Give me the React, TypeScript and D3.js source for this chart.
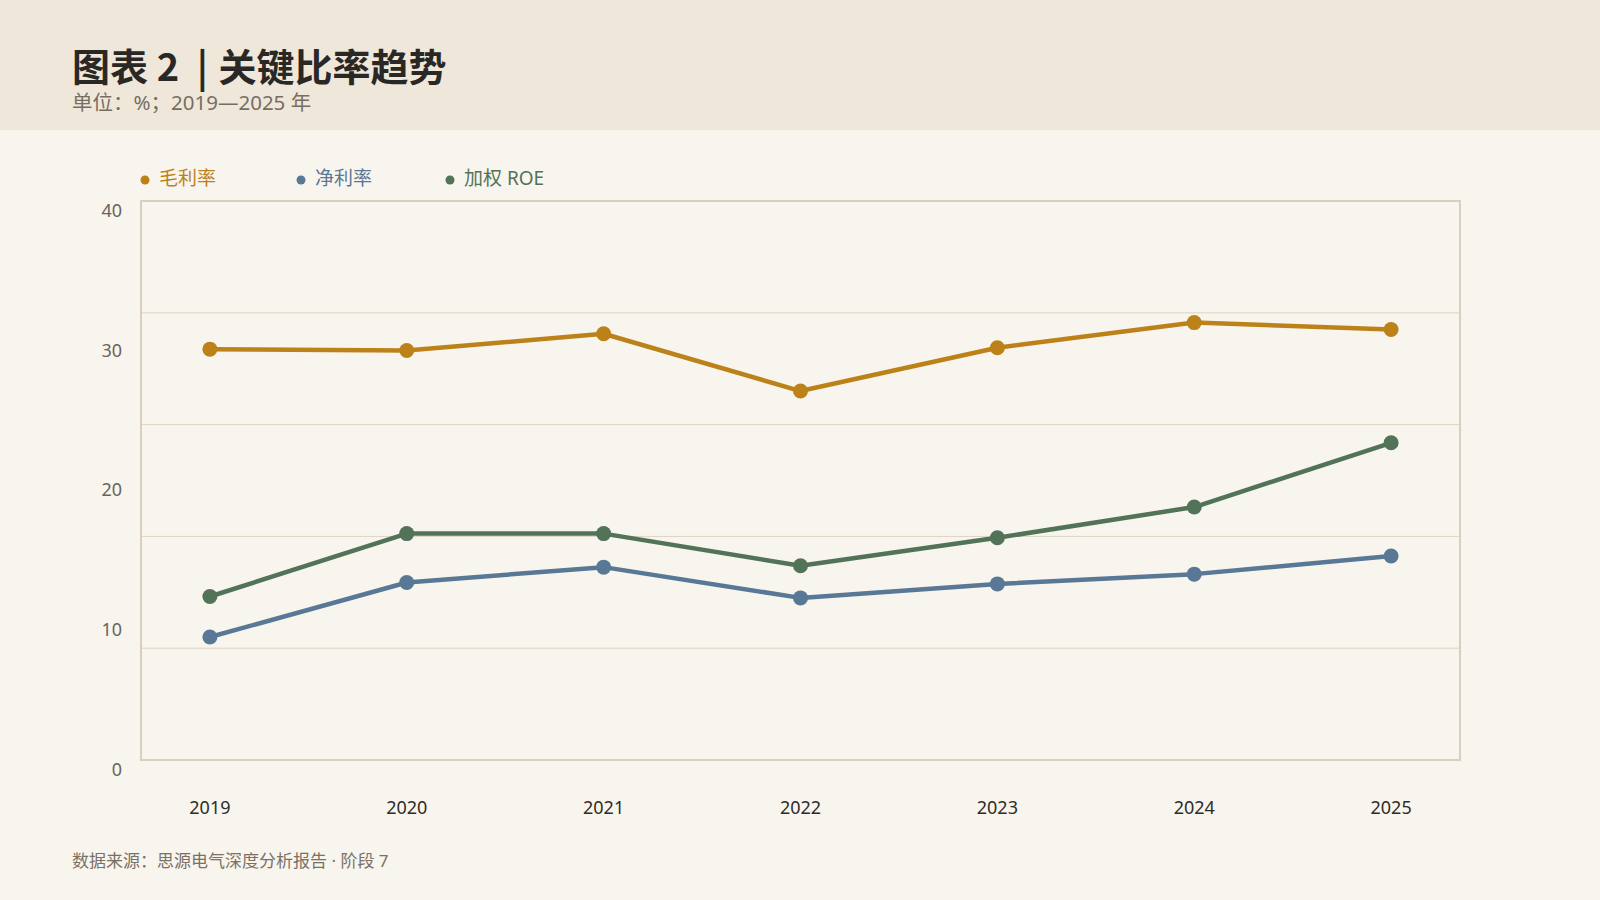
import React, { useEffect, useRef } from "react";
import * as d3 from "d3";

// Chart data
const years = ["2019", "2020", "2021", "2022", "2023", "2024", "2025"];
const grossMargin = [29.4, 29.3, 30.5, 26.4, 29.5, 31.3, 30.8];
const netMargin = [8.8, 12.7, 13.8, 11.6, 12.6, 13.3, 14.6];
const weightedRoe = [11.7, 16.2, 16.2, 13.9, 15.9, 18.1, 22.7];
const seriesNames = ["毛利率", "净利率", "加权 ROE"];
const yTickLabels = [0, 10, 20, 30, 40];

const colors = ["#BC8219", "#587896", "#527358"];

// Layout
const width = 1600;
const height = 900;
const headerHeight = 130;
const marginLeft = 141;
const marginRight = 140;
const marginTop = 201;
const marginBottom = 140;
const gridCount = 5; // horizontal bands inside the plot
const legendX = [145, 301, 450];
const fontStack = "'Noto Sans', 'Noto Sans CJK SC', sans-serif";
const titleFont = "'Noto Sans CJK SC', 'Noto Sans', sans-serif";

const App: React.FC = () => {
  const svgRef = useRef<SVGSVGElement>(null);

  useEffect(() => {
    if (!svgRef.current) return;
    document.body.style.margin = "0";

    const svg = d3.select(svgRef.current);
    svg.selectAll("*").remove();
    svg.attr("width", width).attr("height", height).attr("viewBox", `0 0 ${width} ${height}`);

    // Backgrounds
    svg.append("rect").attr("width", width).attr("height", height).attr("fill", "#F8F5EE");
    svg.append("rect").attr("width", width).attr("height", headerHeight).attr("fill", "#EFE7DA");

    // Title block
    const title = svg
      .append("text")
      .attr("x", 72)
      .attr("y", 81)
      .attr("font-family", titleFont)
      .attr("font-size", 38)
      .attr("font-weight", 700)
      .attr("fill", "#2A2824");
    title.append("tspan").text("图表 2 ");
    title.append("tspan").attr("dx", 9).text("|");
    title.append("tspan").attr("dx", 2).text(" 关键比率趋势");

    svg
      .append("text")
      .attr("x", 72)
      .attr("y", 110)
      .attr("font-family", fontStack)
      .attr("font-size", 20.5)
      .attr("fill", "#776E62")
      .text("单位：%；2019—2025 年");

    const x = d3
      .scalePoint()
      .domain(years)
      .range([marginLeft, width - marginRight])
      .padding(0.35);

    const y = d3
      .scaleLinear()
      .domain([0, 40])
      .range([height - marginBottom, marginTop]);

    const plotW = width - marginLeft - marginRight;
    const plotH = height - marginTop - marginBottom;

    // Grid lines (5 equal bands)
    const gridValues = d3.range(1, gridCount).map((i) => (40 / gridCount) * i);
    svg
      .append("g")
      .selectAll("line")
      .data(gridValues)
      .join("line")
      .attr("x1", marginLeft)
      .attr("x2", width - marginRight)
      .attr("y1", (d) => y(d))
      .attr("y2", (d) => y(d))
      .attr("stroke", "#DDD3C2")
      .attr("stroke-width", 1);

    // Plot frame
    svg
      .append("rect")
      .attr("x", marginLeft)
      .attr("y", marginTop)
      .attr("width", plotW)
      .attr("height", plotH)
      .attr("fill", "none")
      .attr("stroke", "#D9CFBE")
      .attr("stroke-width", 2);

    // Y labels
    svg
      .append("g")
      .selectAll("text")
      .data(yTickLabels)
      .join("text")
      .attr("x", 122)
      .attr("y", (d) => y(d) + 11)
      .attr("text-anchor", "end")
      .attr("dominant-baseline", "middle")
      .attr("font-family", fontStack)
      .attr("font-size", 18)
      .attr("fill", "#6B645A")
      .text((d) => d);

    // X labels
    svg
      .append("g")
      .selectAll("text")
      .data(years)
      .join("text")
      .attr("x", (d) => x(d) || 0)
      .attr("y", 809)
      .attr("text-anchor", "middle")
      .attr("dominant-baseline", "middle")
      .attr("font-family", fontStack)
      .attr("font-size", 18)
      .attr("fill", "#2F2C28")
      .text((d) => d);

    // Series
    const series = [grossMargin, netMargin, weightedRoe];
    const line = d3
      .line<number>()
      .x((d, i) => x(years[i]) || 0)
      .y((d) => y(d));

    series.forEach((values, si) => {
      const g = svg.append("g");
      g.append("path")
        .datum(values)
        .attr("d", line)
        .attr("fill", "none")
        .attr("stroke", colors[si])
        .attr("stroke-width", 4.5)
        .attr("stroke-linejoin", "round");
      g.selectAll("circle")
        .data(values)
        .join("circle")
        .attr("cx", (d, i) => x(years[i]) || 0)
        .attr("cy", (d) => y(d))
        .attr("r", 7.5)
        .attr("fill", colors[si]);
    });

    // Legend
    const legend = svg
      .append("g")
      .selectAll("g")
      .data(seriesNames)
      .join("g")
      .attr("transform", (d, i) => `translate(${legendX[i]},180)`);
    legend
      .append("circle")
      .attr("r", 4.5)
      .attr("fill", (d, i) => colors[i]);
    legend
      .append("text")
      .attr("x", 14)
      .attr("dominant-baseline", "middle")
      .attr("font-family", fontStack)
      .attr("font-size", 19)
      .attr("fill", (d, i) => colors[i])
      .text((d) => d);

    // Source note
    svg
      .append("text")
      .attr("x", 72)
      .attr("y", 862)
      .attr("dominant-baseline", "middle")
      .attr("font-family", fontStack)
      .attr("font-size", 17)
      .attr("fill", "#7A7166")
      .text("数据来源：思源电气深度分析报告 · 阶段 7");
  }, []);

  return (
    <div style={{ position: "absolute", left: 0, top: 0, width, height }}>
      <svg ref={svgRef} />
    </div>
  );
};

export default App;
